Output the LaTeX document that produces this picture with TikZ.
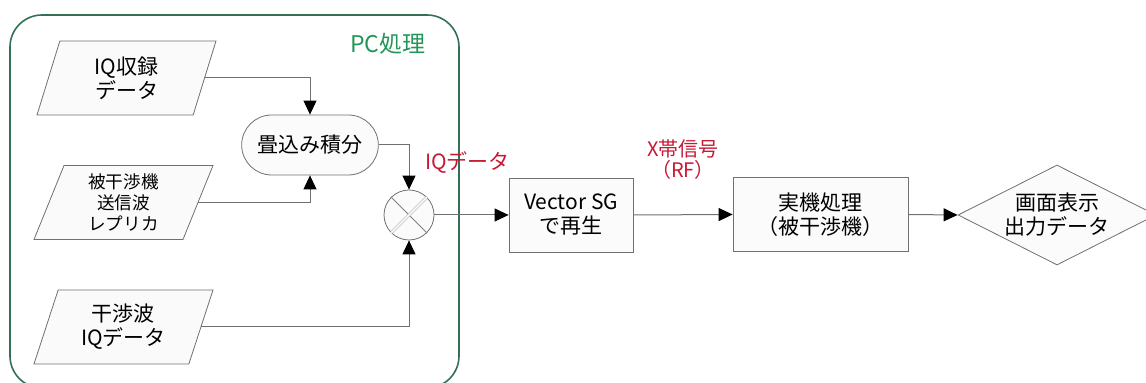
\documentclass[tikz,border=0pt]{standalone}
\usepackage{fontspec}
\setmainfont{Noto Sans CJK JP}
\usetikzlibrary{arrows.meta, positioning, shapes.geometric, shapes.misc}
\definecolor{pcgreen}{RGB}{52,112,84}
\definecolor{pctext}{RGB}{34,150,88}
\definecolor{sigred}{RGB}{200,24,52}
\definecolor{linegray}{RGB}{112,112,112}

\begin{document}
\begin{tikzpicture}[
				x=0.5pt, y=-0.5pt,
				font=\fontsize{10.5pt}{12pt}\selectfont,
				data/.style={draw=linegray, fill=gray!4, trapezium, trapezium left angle=64, trapezium right angle=116, trapezium stretches body=true, minimum width=89.5pt, minimum height=37pt, align=center, inner sep=1pt},
				proc/.style={draw=linegray, fill=gray!3, rectangle, minimum height=37pt, align=center},
				arrow/.style={-{Triangle[length=7pt, width=6.5pt, black]}, draw=linegray, line width=0.5pt}
				]
				
				\clip (0,0) rectangle (1146,383);
				
				% PC frame
				\draw[pcgreen, line width=0.8pt, rounded corners=16pt] (10,15) rectangle (459,388);
				\node[text=pctext, font=\fontsize{11.5pt}{13pt}\selectfont] (pc) at (388,44) {PC処理};
				
				% Input data
				\node[data] (iqrec) at (126.5,78) {IQ収録\\データ};
				\node[data, font=\fontsize{8.8pt}{10.5pt}\selectfont] (replica) at (123.5,202.5) {被干渉機\\送信波\\レプリカ};
				\node[data] (interf) at (123.5,327) {干渉波\\IQデータ};
				
				% Convolution and mixer
				\node[draw=linegray, fill=gray!3, rounded rectangle, minimum width=75pt, minimum height=30pt] (conv) at (310,145) {畳込み積分};
				\node[draw=linegray, fill=gray!3, circle, minimum size=25pt, inner sep=0pt] (mix) at (409,215) {};
				\draw[gray, line width=0.4pt] (mix.north west) -- (mix.south east);
				\draw[gray!70, line width=0.3pt, double=white, double distance=0.8pt] (mix.north east) -- (mix.south west);
				
				% Signal chain
				\node[proc, minimum width=62pt] (vsg) at (571,215) {Vector SG\\で再生};
				\node[proc, minimum width=87.5pt] (dut) at (820.5,214.5) {実機処理\\（被干渉機）};
				\node[draw=linegray, fill=gray!3, diamond, aspect=2, minimum width=99pt, minimum height=50pt, align=center, inner sep=0pt] (disp) at (1057,215) {画面表示\\出力データ};
				
				% Inputs to convolution
				\draw[arrow] (iqrec.east) -| (conv.north);
				\draw[arrow] (replica.east) -| (conv.south);
				
				% Inputs to mixer
				\draw[arrow] (conv.east) -| (mix.north);
				\draw[arrow] (interf.east) -| (mix.south);
				
				% Mixer output
				\draw[arrow] (mix.east) -- (vsg.west)
				node[midway, above, xshift=-2pt, yshift=17pt, text=sigred] {IQデータ};
				
				% RF out
				\draw[arrow] (vsg.east) -- (dut.west)
				node[midway, above, yshift=14pt, text=sigred, align=center, font=\fontsize{10pt}{10.5pt}\selectfont] {X帯信号\\（RF）};
				
				% Display
				\draw[arrow] (dut.east) -- (disp.west);
				
			\end{tikzpicture}
\end{document}
